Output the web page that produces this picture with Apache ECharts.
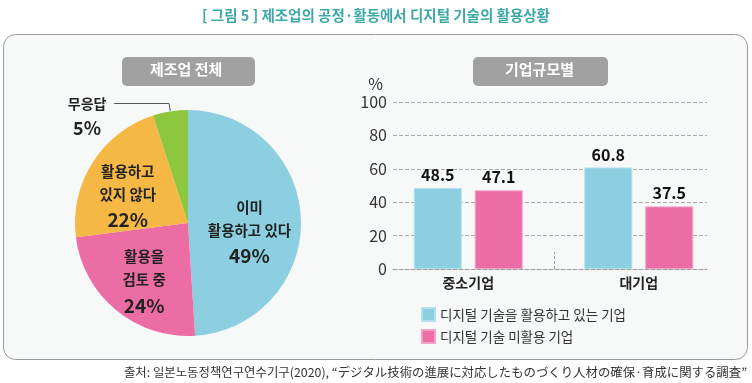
<!DOCTYPE html>
<html><head><meta charset="utf-8">
<script src="https://cdn.jsdelivr.net/npm/echarts@6/dist/echarts.min.js"></script>
<style>html,body{margin:0;padding:0;background:#fff}#c{width:752px;height:383px}</style>
</head><body><div id="c"></div>
<script>
const FONT = '"Noto Sans CJK KR", "Noto Sans", sans-serif';
const pieNames = ['이미\n활용하고 있다', '활용을\n검토 중', '활용하고\n있지 않다', '무응답'];
const pieValues = [49, 24, 22, 5];
const pieColors = ['#8BCFE0', '#EC6DA4', '#F6B845', '#8DC63F'];
const categories = ['중소기업', '대기업'];
const seriesNames = ['디지털 기술을 활용하고 있는 기업', '디지털 기술 미활용 기업'];
const usingValues = [48.5, 60.8];
const notUsingValues = [47.1, 37.5];
const yTicks = [0, 20, 40, 60, 80, 100];

const chart = echarts.init(document.getElementById('c'));
const pieOffsets = [[1, 6], [-3, 7], [-5, 3], [0, 0]];
const barLabel = { show: true, position: 'top', distance: 5, fontSize: 16, fontWeight: 'bold', color: '#111', fontFamily: FONT,
  formatter: function (p) { return p.value.toFixed(1); } };
chart.setOption({
  backgroundColor: '#ffffff',
  animation: false,
  textStyle: { fontFamily: FONT },
  title: {
    text: '[ 그림 5 ] 제조업의 공정·활동에서 디지털 기술의 활용상황',
    left: 'center', top: 3,
    textStyle: { color: '#3DA9A6', fontSize: 14.5, fontWeight: 'bold', fontFamily: FONT }
  },
  graphic: [
    { type: 'rect', z: -10, shape: { x: 3.5, y: 34.5, width: 744, height: 325, r: 12 },
      style: { fill: '#F7F8F8', stroke: '#9a9a9a', lineWidth: 1 } },
    { type: 'rect', z: -5, shape: { x: 122, y: 57, width: 133, height: 29, r: 5 }, style: { fill: '#A1A1A1' } },
    { type: 'text', z: 5, left: 150, top: 62, style: { text: '제조업 전체', fill: '#fff', font: 'bold 15px ' + FONT } },
    { type: 'rect', z: -5, shape: { x: 473, y: 57, width: 135, height: 29, r: 5 }, style: { fill: '#A1A1A1' } },
    { type: 'text', z: 5, left: 505, top: 62, style: { text: '기업규모별', fill: '#fff', font: 'bold 15px ' + FONT } },
    { type: 'text', right: 5, top: 366, style: { text: '출처: 일본노동정책연구연수기구(2020), “デジタル技術の進展に対応したものづくり人材の確保·育成に関する調査”', fill: '#333', font: '12.4px ' + FONT } }
  ],
  legend: {
    orient: 'vertical', left: 416, top: 302, itemWidth: 13, itemHeight: 13, itemGap: 7,
    icon: 'rect', data: seriesNames,
    textStyle: { fontSize: 13.5, color: '#333', fontFamily: FONT }
  },
  grid: [
    { left: 393, right: 45, top: 102, bottom: 114 },
    { left: 383, right: 28, top: 102, bottom: 114 }
  ],
  xAxis: [
    { type: 'category', gridIndex: 0, data: categories,
      axisLine: { lineStyle: { color: '#999', type: 'dashed' } },
      axisTick: { show: false }, axisLabel: { show: false } },
    { type: 'category', gridIndex: 1, data: categories,
      axisLine: { show: false }, axisTick: { show: false },
      axisLabel: { fontSize: 14, fontWeight: 'bold', color: '#222', margin: 7, fontFamily: FONT } }
  ],
  yAxis: [
    { type: 'value', gridIndex: 0, min: 0, max: 100, interval: 20,
      name: '%', nameLocation: 'end', nameGap: 10,
      nameTextStyle: { fontSize: 16, color: '#333', align: 'right', padding: [0, 10, 0, 0], fontFamily: FONT },
      axisLine: { show: false }, axisTick: { show: false },
      axisLabel: { fontSize: 16, color: '#333', margin: 6, fontFamily: FONT,
        formatter: function (v) { return yTicks.indexOf(v) >= 0 ? String(v) : ''; } },
      splitLine: { lineStyle: { color: '#aaa', type: 'dashed' } } },
    { type: 'value', gridIndex: 1, min: 0, max: 100, interval: 20, show: false, splitLine: { show: false } }
  ],
  series: [
    {
      type: 'pie', center: [188, 223], radius: 113, startAngle: 90, clockwise: true,
      data: pieNames.map(function (n, i) {
        const d = { name: n, value: pieValues[i], itemStyle: { color: pieColors[i] } };
        if (i === 3) {
          d.label = {
            position: 'outside', distanceToLabelLine: 6,
            formatter: '{n|무응답}\n{p|5%}',
            padding: [30, 0, 0, 0],
            rich: {
              n: { fontSize: 14, fontWeight: 'bold', color: '#222', width: 42, align: 'center', lineHeight: 20, fontFamily: FONT },
              p: { fontSize: 18, fontWeight: 'bold', color: '#222', width: 42, align: 'center', lineHeight: 30, fontFamily: FONT }
            }
          };
          d.labelLine = { show: true, length: 8, length2: 55, smooth: false, lineStyle: { color: '#555', width: 1 } };
        }
        return d;
      }),
      label: {
        position: 'inside',
        formatter: function (p) { return '{n|' + p.name.split('\n').join('}\n{n|') + '}\n{p|' + p.value + '%}'; },
        rich: {
          n: { fontSize: 14.5, fontWeight: 'bold', color: '#222', lineHeight: 23, align: 'center', fontFamily: FONT },
          p: { fontSize: 19, fontWeight: 'bold', color: '#222', lineHeight: 29, align: 'center', fontFamily: FONT }
        }
      },
      labelLine: { show: false },
      labelLayout: function (p) {
        const o = pieOffsets[p.dataIndex];
        return p.dataIndex === 3 ? {} : { dx: o[0], dy: o[1] };
      }
    },
    {
      name: seriesNames[0], type: 'bar', xAxisIndex: 1, yAxisIndex: 1, data: usingValues, barWidth: 48, barGap: '27%',
      itemStyle: { color: '#8BCFE0', borderColor: '#b3e0ea', borderWidth: 1 },
      label: barLabel
    },
    {
      name: seriesNames[1], type: 'bar', xAxisIndex: 1, yAxisIndex: 1, data: notUsingValues, barWidth: 48,
      itemStyle: { color: '#EC6DA4', borderColor: '#f3a3c6', borderWidth: 1 },
      label: barLabel
    }
  ]
});
// short dashed divider at the boundary between the two categories
const x0 = chart.convertToPixel({ xAxisIndex: 1 }, categories[0]);
const x1 = chart.convertToPixel({ xAxisIndex: 1 }, categories[1]);
const yBase = chart.convertToPixel({ yAxisIndex: 0 }, 0);
const yTop = chart.convertToPixel({ yAxisIndex: 0 }, 10);
const xm = Math.round((x0 + x1) / 2) + 0.5;
chart.setOption({ graphic: [{ id: 'divider', type: 'line', shape: { x1: xm, y1: yBase, x2: xm, y2: yTop },
  style: { stroke: '#999', lineWidth: 1, lineDash: [3, 2] } }] });
</script></body></html>
